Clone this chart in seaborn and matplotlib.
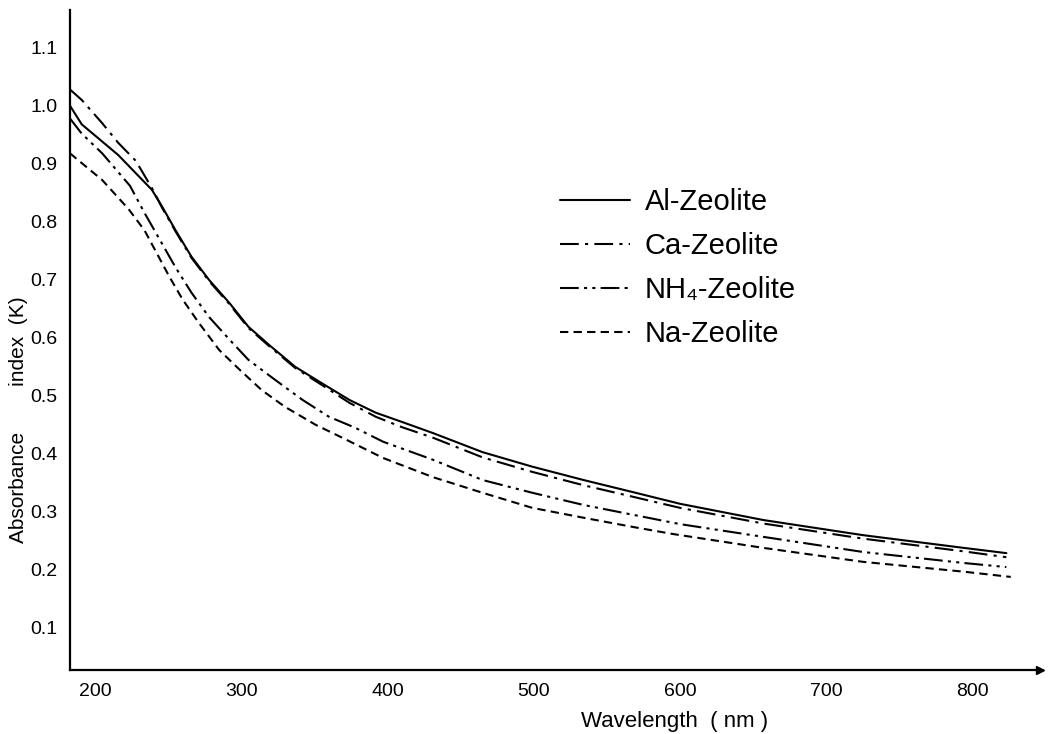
import numpy as np
import pandas as pd
import matplotlib
matplotlib.use("Agg")
import matplotlib.pyplot as plt
import seaborn as sns

# ---- data ----
al_nm = [183, 191, 216, 239, 246, 255, 266, 278, 292, 305, 319, 337, 355, 374, 392,
         410, 431, 465, 499, 534, 568, 600, 657, 725, 794, 823]
al_v = [1.0, 0.968, 0.915, 0.855, 0.826, 0.786, 0.74, 0.70, 0.66, 0.619, 0.588, 0.55,
        0.522, 0.493, 0.471, 0.455, 0.436, 0.403, 0.378, 0.355, 0.334, 0.314, 0.286,
        0.26, 0.238, 0.229]

ca_nm = [183, 191, 205, 216, 228, 239, 246, 255, 266, 278, 292, 305, 319, 337, 355,
         374, 392, 410, 431, 465, 499, 534, 568, 600, 657, 725, 794, 823]
ca_v = [1.028, 1.01, 0.97, 0.936, 0.905, 0.858, 0.824, 0.784, 0.738, 0.698, 0.658,
        0.617, 0.586, 0.548, 0.519, 0.488, 0.464, 0.446, 0.428, 0.394, 0.369, 0.346,
        0.326, 0.307, 0.280, 0.254, 0.232, 0.222]

nh4_nm = [183, 191, 205, 224, 234, 246, 255, 266, 278, 292, 305, 323, 342, 360, 378,
          397, 431, 465, 499, 534, 568, 600, 657, 725, 794, 823]
nh4_v = [0.978, 0.952, 0.918, 0.862, 0.815, 0.762, 0.722, 0.678, 0.636, 0.597, 0.562,
         0.528, 0.493, 0.464, 0.445, 0.421, 0.39, 0.355, 0.333, 0.312, 0.295, 0.279,
         0.257, 0.231, 0.212, 0.205]

na_nm = [183, 205, 223, 234, 241, 251, 260, 271, 285, 299, 314, 330, 351, 369, 397,
         431, 465, 499, 534, 568, 595, 657, 725, 794, 826]
na_v = [0.918, 0.872, 0.822, 0.785, 0.752, 0.705, 0.666, 0.626, 0.579, 0.545, 0.51,
        0.481, 0.45, 0.428, 0.393, 0.36, 0.333, 0.307, 0.29, 0.274, 0.262, 0.238,
        0.214, 0.197, 0.188]

series_names = ["Al-Zeolite", "Ca-Zeolite", "NH\u2084-Zeolite", "Na-Zeolite"]
x_ticks = [200, 300, 400, 500, 600, 700, 800]
y_ticks = [0.1, 0.2, 0.3, 0.4, 0.5, 0.6, 0.7, 0.8, 0.9, 1.0, 1.1]
y_tick_labels = ["0.1", "0.2", "0.3", "0.4", "0.5", "0.6", "0.7", "0.8", "0.9", "1.0", "1.1"]

# ---- build long-form table ----
frames = []
for name, xs, ys in zip(series_names, [al_nm, ca_nm, nh4_nm, na_nm],
                        [al_v, ca_v, nh4_v, na_v]):
    frames.append(pd.DataFrame({"nm": xs, "v": ys, "series": name}))
df = pd.concat(frames, ignore_index=True)

sns.set_theme(style="white")
plt.rcParams["font.family"] = ["Liberation Sans Narrow", "Liberation Sans", "DejaVu Sans"]
plt.rcParams["text.color"] = "black"
plt.rcParams["axes.labelcolor"] = "black"

fig = plt.figure(figsize=(10.5, 7.34), dpi=100)
ax = fig.add_axes([70 / 1050, 1 - 670 / 734, 970 / 1050, 660 / 734])

dash_map = {
    series_names[0]: "",
    series_names[1]: (9, 3, 1.5, 3),
    series_names[2]: (9, 2.5, 1.5, 2.5, 1.5, 2.5),
    series_names[3]: (4, 2.5),
}

sns.lineplot(data=df, x="nm", y="v", style="series", style_order=series_names,
             dashes=dash_map, color="black", linewidth=1.5, estimator=None,
             sort=False, ax=ax, legend=True)

ax.set_xlim(183, 846)
ax.set_ylim(0.0276, 1.165)

ax.set_xticks(x_ticks)
ax.set_xticklabels([str(t) for t in x_ticks])
ax.set_yticks(y_ticks)
ax.set_yticklabels(y_tick_labels)
ax.tick_params(axis="both", direction="in", length=5, width=1.2, colors="black",
               labelsize=14, pad=9)

for s in ["top", "right"]:
    ax.spines[s].set_visible(False)
for s in ["left", "bottom"]:
    ax.spines[s].set_color("black")
    ax.spines[s].set_linewidth(1.6)

# arrow head at the end of x axis
ax.plot([1], [0], marker=">", color="black", markersize=6,
        transform=ax.transAxes, clip_on=False)

ax.set_xlabel("Wavelength  ( nm )", fontsize=16, color="black")
ax.xaxis.set_label_coords(0.623, -0.062)
ax.set_ylabel("Absorbance        index  (K)", fontsize=15, color="black")
ax.yaxis.set_label_coords(-0.043, 0.379)

handles, labels = ax.get_legend_handles_labels()
for h in handles:
    h.set_linewidth(1.5)
leg = ax.legend(handles, labels, loc="upper left", bbox_to_anchor=(0.49, 0.752),
                frameon=False, fontsize=21, handlelength=2.4, handletextpad=0.5,
                labelspacing=0.55, borderpad=0)
for t in leg.get_texts():
    t.set_color("black")

fig.savefig("out.png", dpi=100, facecolor="white")
